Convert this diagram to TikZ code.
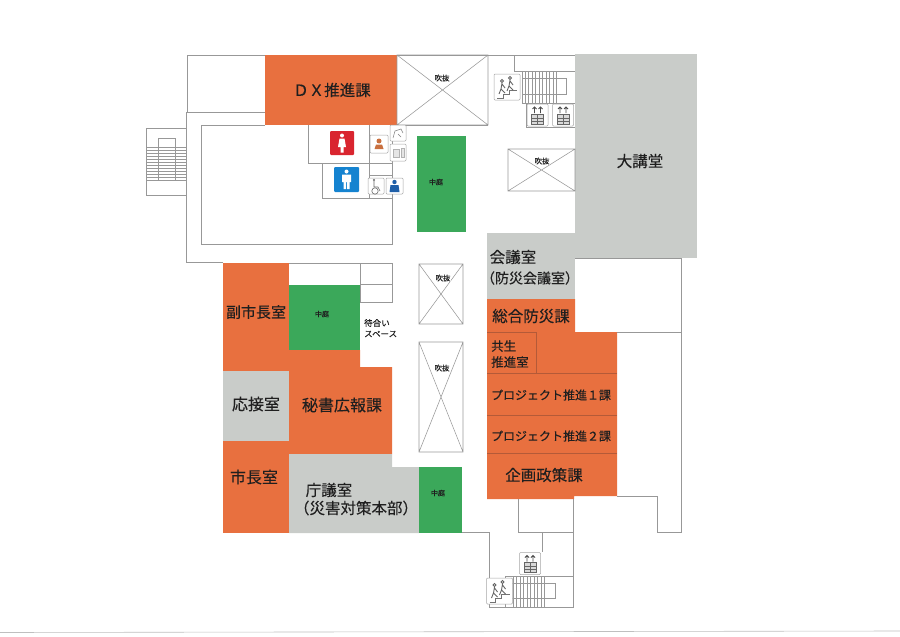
\documentclass[tikz,border=0pt]{standalone}
\usepackage{fontspec}
\newfontfamily\jpfont[FakeBold=0.25]{Noto Sans CJK JP}
\usetikzlibrary{positioning}
\definecolor{roomorange}{HTML}{E8703F}
\definecolor{roomgray}{HTML}{C9CCC9}
\definecolor{roomgreen}{HTML}{3BA85A}
\definecolor{wallgray}{HTML}{989898}
\definecolor{signred}{HTML}{D9252F}
\definecolor{signblue}{HTML}{1583D0}
\definecolor{signnavy}{HTML}{1F5FA8}
\definecolor{signtan}{HTML}{C9703F}
\definecolor{dividerline}{HTML}{B45A38}

\tikzset{
  wall/.style={draw=wallgray, line width=0.55pt},
  tread/.style={draw=wallgray, line width=0.4pt},
  divider/.style={draw=dividerline, line width=0.6pt},
  room/.style={fill=#1},
  roomname/.style={font=\jpfont\fontsize{#1}{#1}\selectfont, inner sep=0pt, text=black!88},
  tile/.style={draw=black!35, fill=white, line width=0.5pt, rounded corners=1pt},
  pics/runner/.style={code={
    \draw[tile] (-13,-13) rectangle (13,13);
    \draw[black!55, line width=0.7pt] (-10,11) -- (-4,11) -- (-4,7) -- (2,7) -- (2,3) -- (10,3);
    \foreach \dx/\dy in {-5/0, 3/-3}{
      \draw[black!60, line width=0.9pt] (\dx,\dy-6) circle (1.5) (\dx,\dy-4) -- (\dx-1,\dy+2) -- (\dx-3,\dy+7) (\dx-1,\dy+2) -- (\dx+3,\dy+6) (\dx,\dy-3) -- (\dx+3,\dy+1);
    }
  }},
  pics/lift/.style={code={
    \draw[tile] (-10.5,-11) rectangle (10.5,11);
    \draw[black!60, fill=black!15, line width=0.5pt] (-6,-1) rectangle (6,9);
    \draw[black!60, line width=0.35pt] (-6,3) -- (6,3) (-6,6) -- (6,6) (0,-1) -- (0,9);
    \draw[black!70, line width=0.8pt] (-3,-2) -- (-3,-8) (3,-2) -- (3,-8) (-5,-6) -- (-3,-8) -- (-1,-6) (1,-6) -- (3,-8) -- (5,-6);
  }}
}

\begin{document}
\begin{tikzpicture}[x=1pt, y=-1pt]
\useasboundingbox (0,0) rectangle (900,637);

% coloured rooms
\path[room=roomorange] (265,55) rectangle (397,125);
\path[room=roomorange] (223,263) rectangle (289,371);
\path[room=roomorange] (223,441) rectangle (289,533);
\path[room=roomorange] (289,350) -- (360,350) -- (360,367) -- (392,367) -- (392,454) -- (289,454) -- cycle;
\path[room=roomorange] (487,299) -- (575,299) -- (575,332) -- (617,332) -- (617,496) -- (574,496) -- (574,499) -- (487,499) -- cycle;
\path[room=roomgray] (575,54) rectangle (697,258);
\path[room=roomgray] (487,233) rectangle (575,299);
\path[room=roomgray] (223,371) rectangle (289,441);
\path[room=roomgray] (289,454) -- (392,454) -- (392,467) -- (419,467) -- (419,533) -- (289,533) -- cycle;
\path[room=roomgreen] (417,136) rectangle (466,232);
\path[room=roomgreen] (289,285) rectangle (360,350);
\path[room=roomgreen] (419,467) rectangle (462,533);

% outer walls
\draw[wall] (265,55) -- (187,55) -- (187,112) -- (265,112);
\draw[wall] (397,55) -- (575,55);
\draw[wall] (186,112) -- (186,262) -- (223,262);
\draw[wall] (575,258) -- (681,258) -- (681,532) -- (657,532) -- (657,496) -- (617,496);
\draw[wall] (617,332) -- (681,332);
\draw[wall] (518,499) -- (518,532) -- (573,532);
\draw[wall] (573,499) -- (573,607) -- (489,607) -- (489,532) -- (462,532);
\draw[wall] (542,532) -- (542,552);

% hall and washrooms
\draw[wall] (265,125) -- (201,125) -- (201,244) -- (392,244) -- (392,125);
\draw[wall] (397,125) -- (488,125);
\draw[wall] (308,125) -- (308,163) -- (392,163);
\draw[wall] (322,163) -- (322,198) -- (392,198);
\draw[wall] (369,125) -- (369,198) (369,175) -- (392,175);

% waiting area
\draw[wall] (289,263) -- (392,263) -- (392,302) -- (360,302) -- (360,263);
\draw[wall] (360,284) -- (392,284);

% room dividers
\draw[divider] (487,373) -- (617,373);
\draw[divider] (487,415) -- (617,415);
\draw[divider] (487,453) -- (617,453);
\draw[divider] (487,332) -- (536,332) -- (536,373);

% voids
\foreach \xa/\ya/\xb/\yb in {397/55/488/125, 508/149/575/191, 419/264/463/324, 419/342/463/452}{
  \draw[wall] (\xa,\ya) rectangle (\xb,\yb) (\xa,\ya) -- (\xb,\yb) (\xa,\yb) -- (\xb,\ya);
}

% left stairs
\draw[wall] (186,128) -- (146,128) -- (146,195) -- (186,195);
\draw[wall] (158,180) -- (158,138) -- (175,138) -- (175,180);
\foreach \ty in {147,150,...,180}{
  \draw[tread] (146,\ty) -- (186,\ty);
}

% top stairs
\draw[wall] (514,55) -- (514,71) -- (575,71);
\draw[wall] (522,71) -- (522,103) -- (575,103);
\draw[wall] (522,78) -- (566,78) -- (566,94) -- (522,94);
\foreach \tx in {525,528.5,...,557}{
  \draw[tread] (\tx,71) -- (\tx,103);
}
\draw[wall] (526,103) -- (526,127) -- (575,127);
\pic at (507,87) {runner};
\pic at (537.5,115) {lift};
\pic at (563,115) {lift};

% bottom stairs
\draw[wall] (505,607) -- (505,576) -- (573,576);
\draw[wall] (505,583) -- (555,583) -- (555,598) -- (505,598);
\foreach \tx in {513,516.5,...,547}{
  \draw[tread] (\tx,576) -- (\tx,607);
}
\pic at (530,563.5) {lift};
\pic at (499.5,591) {runner};

% washroom signs
\path[fill=signred, rounded corners=1pt] (330,131) rectangle (354,155);
\path[fill=white] (342,135.5) circle (2);
\path[fill=white] (339.5,138.5) -- (344.5,138.5) -- (346,147) -- (343.5,147) -- (343.5,152.5) -- (340.5,152.5) -- (340.5,147) -- (338,147) -- cycle;
\path[fill=signblue, rounded corners=1pt] (334,167) rectangle (359,192);
\path[fill=white] (346.5,171.5) circle (2);
\path[fill=white] (342,174.5) -- (351,174.5) -- (351,182) -- (349.5,182) -- (349.5,189) -- (347,189) -- (347,182) -- (346,182) -- (346,189) -- (343.5,189) -- (343.5,182) -- (342,182) -- cycle;
\draw[tile] (370,135) rectangle (388,153);
\path[fill=signtan] (379,141) circle (2.5) (374.5,149) -- (376,144.5) -- (382,144.5) -- (383.5,149) -- cycle;
\draw[tile] (390,125) rectangle (406,141);
\draw[black!50, line width=0.5pt] (393,138) -- (395,131) -- (401,129) -- (403,133) (398,134) -- (401,137);
\draw[tile] (390,144) rectangle (406,161);
\draw[black!30, fill=black!10, line width=0.4pt] (393,149) rectangle (399,157) (401,148) rectangle (404,157);
\draw[tile] (368,178) rectangle (384,194);
\draw[black!60, line width=0.6pt] (374,181) -- (374,187) -- (378,187) -- (380,191);
\draw[black!60, line width=0.6pt] (375,191) circle (3.2);
\path[fill=black!60] (374,180) circle (1.2);
\draw[tile] (386,178) rectangle (403,194);
\path[fill=signnavy] (394.5,182) circle (2.2) (389.5,192) -- (390.5,185) -- (398.5,185) -- (399.5,192) -- cycle;

% room names
\node (dxlabel) [roomname=15.5] at (332,90) {ＤＸ推進課};
\node (koudou) [roomname=15.5] at (640,161) {大講堂};
\node (kaigi) [roomname=15.5] at (513,257) {会議室};
\node (bousaikaigi) [roomname=14] at (530,278) {（防災会議室）};
\node (sougou) [roomname=15.5] at (531,316) {総合防災課};
\node (kyousei) [roomname=12.5, anchor=west] at (491,346) {共生};
\node (suishin) [roomname=12.5, anchor=west] at (491,362) {推進室};
\node (project1) [roomname=12] at (551,395) {プロジェクト推進１課};
\node (project2) [roomname=12] at (551,436) {プロジェクト推進２課};
\node (kikaku) [roomname=15.5] at (544,475) {企画政策課};
\node (fukushi) [roomname=15] at (256,312) {副市長室};
\node (ousetsu) [roomname=16] at (256,404) {応接室};
\node (shichou) [roomname=16] at (254,477) {市長室};
\node (hisho) [roomname=16] at (342,405) {秘書広報課};
\node (chougi) [roomname=15.5] at (329,490) {庁議室};
\node (saigai) [roomname=15.5] at (356,508) {（災害対策本部）};
\node (machi) [roomname=8.5, anchor=west] at (364,323) {待合い};
\node (space) [roomname=8.5, anchor=west] at (364,334) {スペース};

% small labels
\foreach \lx/\ly/\ln in {436/182/niwaa, 322/314/niwab, 438/493/niwac}{
  \node (\ln) [roomname=7] at (\lx,\ly) {中庭};
}
\foreach \lx/\ly/\ln in {442/78/fukia, 542/161/fukib, 443/278/fukic, 442/368/fukid}{
  \node (\ln) [roomname=7.5, fill=white, inner sep=0.5pt] at (\lx,\ly) {吹抜};
}

% scan edge
\draw[black!25, line width=0.6pt] (0,632.5) -- (900,631);
\end{tikzpicture}
\end{document}
